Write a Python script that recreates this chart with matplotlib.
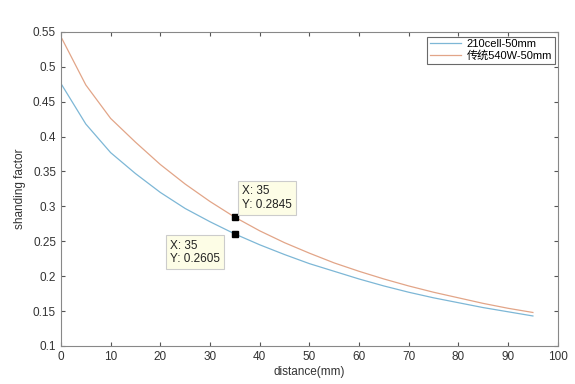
import numpy as np
import matplotlib
matplotlib.use('Agg')
import matplotlib.pyplot as plt

plt.rcParams['font.family'] = ['Liberation Sans', 'Noto Sans CJK SC', 'DejaVu Sans']

distance = [0, 5, 10, 15, 20, 25, 30, 35, 40, 45, 50, 55, 60, 65, 70, 75, 80, 85, 90, 95]
cell210 = [0.476, 0.418, 0.377, 0.347, 0.320, 0.297, 0.278, 0.2605, 0.245, 0.231,
           0.218, 0.207, 0.196, 0.186, 0.177, 0.169, 0.162, 0.155, 0.149, 0.143]
trad540 = [0.543, 0.474, 0.426, 0.392, 0.360, 0.332, 0.307, 0.2845, 0.265, 0.248,
           0.233, 0.219, 0.207, 0.196, 0.186, 0.177, 0.169, 0.161, 0.154, 0.148]
labels = ['210cell-50mm', '传统540W-50mm']
tip_x = 35

fig = plt.figure(figsize=(5.75, 3.84), dpi=100)
ax = fig.add_axes([0.106, 0.099, 0.864, 0.818])

ax.plot(distance, cell210, color='#7db7d6', lw=0.9, label=labels[0])
ax.plot(distance, trad540, color='#e2a588', lw=0.9, label=labels[1])

ax.set_xlim(0, 100)
ax.set_ylim(0.1, 0.55)
ax.set_xticks(np.arange(0, 101, 10))
yt = np.arange(0.1, 0.551, 0.05)
ax.set_yticks(yt)
ax.set_yticklabels([f'{v:.2f}'.rstrip('0') for v in yt])
ax.tick_params(direction='in', top=True, right=True, labelsize=8.5, length=3,
               color='#555555', labelcolor='#333333')
for s in ax.spines.values():
    s.set_color('#888888')
    s.set_linewidth(0.8)
ax.set_xlabel('distance(mm)', fontsize=8.5, color='#333333', labelpad=2)
ax.set_ylabel('shanding factor', fontsize=8.5, color='#333333', labelpad=5)

leg = ax.legend(loc='upper right', fontsize=8, frameon=True, fancybox=False,
                handlelength=2.8, handletextpad=0.5, borderpad=0.25,
                labelspacing=0.1, edgecolor='#444444', borderaxespad=0.0,
                bbox_to_anchor=(0.994, 0.985))
leg.get_frame().set_linewidth(0.8)

i = distance.index(tip_x)
box = dict(boxstyle='square,pad=0.35', fc='#fdfde6', ec='#cccccc', lw=0.8)
for yv in [trad540[i], cell210[i]]:
    ax.plot(tip_x, yv, 's', color='black', ms=5)
for yv, xt, ytt in [(trad540[i], 36.4, 0.3125), (cell210[i], 21.9, 0.234)]:
    ax.text(xt, ytt, f'X: {tip_x}\nY: {yv:.4f}', fontsize=8.5, color='#222222',
            va='center', ha='left', bbox=box, linespacing=1.2)

fig.savefig('out.png', dpi=100)
